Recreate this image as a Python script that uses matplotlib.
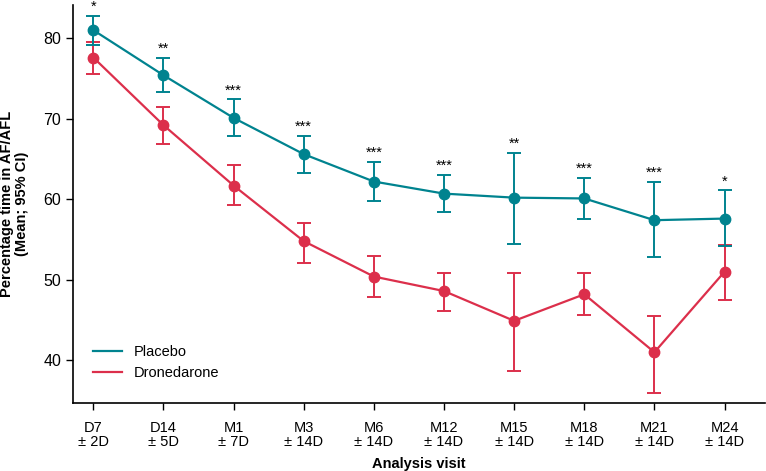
import matplotlib
matplotlib.use('Agg')
import matplotlib.pyplot as plt
from matplotlib.lines import Line2D

plt.rcParams['font.family'] = ['Liberation Sans', 'DejaVu Sans']

visitas = ['D7\n± 2D', 'D14\n± 5D', 'M1\n± 7D', 'M3\n± 14D', 'M6\n± 14D',
           'M12\n± 14D', 'M15\n± 14D', 'M18\n± 14D', 'M21\n± 14D', 'M24\n± 14D']

placebo_media = [81.0, 75.4, 70.1, 65.6, 62.2, 60.7, 60.2, 60.1, 57.4, 57.6]
placebo_sup   = [82.8, 77.6, 72.4, 67.9, 64.6, 63.0, 65.7, 62.6, 62.1, 61.1]
placebo_inf   = [79.2, 73.3, 67.8, 63.2, 59.8, 58.4, 54.5, 57.6, 52.8, 54.2]

drone_media = [77.6, 69.2, 61.7, 54.8, 50.4, 48.6, 44.9, 48.2, 41.0, 51.0]
drone_sup   = [79.5, 71.5, 64.2, 57.1, 53.0, 50.9, 50.8, 50.8, 45.5, 54.3]
drone_inf   = [75.6, 66.8, 59.3, 52.1, 47.9, 46.1, 38.7, 45.6, 36.0, 47.5]

significancia = ['*', '**', '***', '***', '***', '***', '**', '***', '***', '*']

COR_PLACEBO = '#00838F'
COR_DRONE   = '#DC2F4B'

fig = plt.figure(figsize=(7.66, 4.71), dpi=100)
ax = fig.add_axes([0.0953, 0.1444, 0.9037, 0.8446])

x = list(range(len(visitas)))

def desenhar(media, sup, inf, cor, rotulo, z):
    erro = [[m - i for m, i in zip(media, inf)], [s - m for m, s in zip(media, sup)]]
    ax.errorbar(x, media, yerr=erro, color=cor, ecolor=cor, elinewidth=1.4,
                capsize=5, capthick=1.4, linewidth=1.6, marker='o',
                markersize=7.5, label=rotulo, zorder=z)

desenhar(drone_media, drone_sup, drone_inf, COR_DRONE, 'Dronedarone', 2)
desenhar(placebo_media, placebo_sup, placebo_inf, COR_PLACEBO, 'Placebo', 3)

# asteriscos de significancia acima do IC do placebo
for i, s in enumerate(significancia):
    ax.annotate(s, (x[i], placebo_sup[i]), xytext=(0, 1.5), textcoords='offset points',
                ha='center', va='bottom', fontsize=10.5, annotation_clip=False)

ax.set_xlim(-0.29, 9.58)
ax.set_ylim(34.7, 84.1)
ax.set_yticks([40, 50, 60, 70, 80])
ax.set_xticks(x)
ax.set_xticklabels(visitas, fontsize=10.5, linespacing=1.0)
ax.tick_params(axis='y', labelsize=11.5, length=5, width=1)
ax.tick_params(axis='x', length=5, width=1, pad=8)

ax.spines['top'].set_visible(False)
ax.spines['right'].set_visible(False)
ax.spines['left'].set_linewidth(1.2)
ax.spines['bottom'].set_linewidth(1.2)

ax.set_xlabel('Analysis visit', fontsize=10.5, fontweight='bold', labelpad=6)
ax.set_ylabel('Percentage time in AF/AFL\n(Mean; 95% CI)', fontsize=10.5,
              fontweight='bold', labelpad=10, linespacing=1.1)

h = [Line2D([], [], color=COR_PLACEBO, lw=1.6), Line2D([], [], color=COR_DRONE, lw=1.6)]
ax.legend(h, ['Placebo', 'Dronedarone'], loc='lower left', bbox_to_anchor=(0.01, 0.025),
          frameon=False, fontsize=10.5, handlelength=2.0, labelspacing=0.45)

fig.savefig('out.png', dpi=100)
